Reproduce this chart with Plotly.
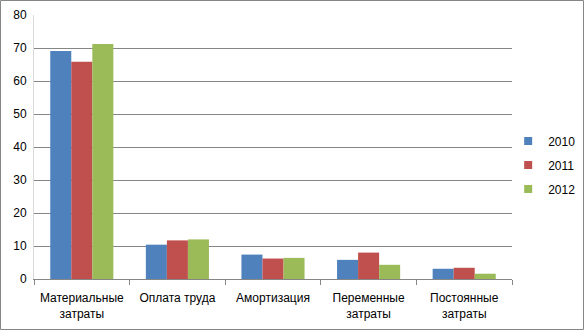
import plotly.graph_objects as go

categories = ["Материальные<br>затраты", "Оплата труда", "Амортизация",
              "Переменные<br>затраты", "Постоянные<br>затраты"]
years = ["2010", "2011", "2012"]
values_2010 = [69.1, 10.4, 7.4, 5.8, 3.1]
values_2011 = [65.8, 11.7, 6.2, 8.0, 3.4]
values_2012 = [71.2, 12.0, 6.4, 4.3, 1.6]
colors = ["#4F81BD", "#C0504D", "#9BBB59"]

fig = go.Figure()
for name, vals, col in zip(years, [values_2010, values_2011, values_2012], colors):
    fig.add_trace(go.Bar(x=categories, y=vals, name=name, showlegend=False,
                         marker=dict(color=col, line=dict(width=0))))
# small square legend keys
for name, col in zip(years, colors):
    fig.add_trace(go.Scatter(x=[categories[0]], y=[None], name=name, mode="markers",
                             legendgroup=name,
                             marker=dict(symbol="square", size=8, color=col)))

fig.update_layout(
    width=585, height=330,
    margin=dict(l=34, r=73, t=15, b=51, autoexpand=False),
    paper_bgcolor="white", plot_bgcolor="white",
    barmode="group", bargap=0.34, bargroupgap=0,
    font=dict(family="Liberation Sans, Arial, sans-serif", size=12, color="#000000"),
    legend=dict(x=0.992, y=0.432, yanchor="middle", xanchor="left",
                font=dict(size=12), itemwidth=30, tracegroupgap=5,
                bgcolor="rgba(0,0,0,0)"),
    showlegend=True,
    shapes=[dict(type="rect", xref="paper", yref="paper",
                 x0=-33.5/478, x1=1+71.5/478, y0=-50.5/264, y1=1+14.5/264,
                 line=dict(color="#868686", width=1))],
)
fig.update_yaxes(range=[0, 80], dtick=10, showgrid=True, gridcolor="#868686",
                 gridwidth=1, showline=True, linecolor="#D9D9D9",
                 ticks="", ticklen=0, zeroline=False, ticklabelstandoff=4)
fig.update_xaxes(showline=True, linecolor="#868686", ticks="outside",
                 tickson="boundaries", ticklen=5, tickcolor="#868686",
                 showgrid=False, ticklabelstandoff=8)

fig.write_html("out.html")
